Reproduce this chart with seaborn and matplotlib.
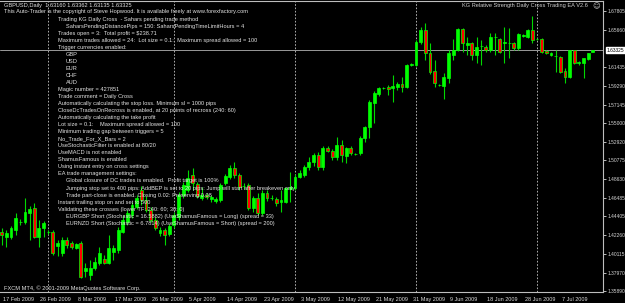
import matplotlib
matplotlib.use("Agg")
import matplotlib.pyplot as plt
import matplotlib.transforms as mtransforms
import numpy as np
import pandas as pd
import seaborn as sns

# ---------------- data (GBPUSD daily) ----------------
opens = [1.4261, 1.4204, 1.4204, 1.4284, 1.4375, 1.4375, 1.4478, 1.4535, 1.4204, 1.4307,
         1.4261, 1.4261, 1.4102, 1.4022, 1.4170, 1.4136, 1.4079, 1.4136, 1.3817, 1.3771,
         1.3851, 1.3908, 1.3953, 1.3908, 1.4033, 1.4056, 1.4261, 1.4375, 1.4455, 1.4546,
         1.4740, 1.4626, 1.4512, 1.4398, 1.4250, 1.4284, 1.4238, 1.4341, 1.4432, 1.4683,
         1.4740, 1.4911, 1.4808, 1.4649, 1.4683, 1.4637, 1.4615, 1.4626, 1.4820, 1.4888,
         1.4991, 1.4911, 1.4786, 1.4797, 1.4535, 1.4649, 1.4478, 1.4706, 1.4649, 1.4637,
         1.4603, 1.4603, 1.4751, 1.4763, 1.4888, 1.4911, 1.5002, 1.5059, 1.5139, 1.5002,
         1.5219, 1.5185, 1.5116, 1.5253, 1.5128, 1.5219, 1.5150, 1.5162, 1.5333, 1.5458,
         1.5732, 1.5834, 1.5903, 1.5914, 1.5903, 1.5914, 1.5948, 1.5914, 1.6165, 1.6165,
         1.6427, 1.6564, 1.6302, 1.6097, 1.5937, 1.5926, 1.6017, 1.6279, 1.6336, 1.6575,
         1.6393, 1.6416, 1.6279, 1.6382, 1.6370, 1.6336, 1.6484, 1.6461, 1.6416, 1.6416,
         1.6416, 1.6359, 1.6496, 1.6484, 1.6564, 1.6461, 1.6461, 1.6325, 1.6279, 1.6268,
         1.6256, 1.6097, 1.6028, 1.6336, 1.6188, 1.6188, 1.6233, 1.6316]
highs = [1.4307, 1.4284, 1.4330, 1.4478, 1.4409, 1.4649, 1.4558, 1.4592, 1.4398, 1.4387,
         1.4284, 1.4284, 1.4170, 1.4204, 1.4204, 1.4159, 1.4136, 1.4159, 1.3908, 1.3942,
         1.3976, 1.4090, 1.3999, 1.4227, 1.4113, 1.4318, 1.4455, 1.4512, 1.4603, 1.4683,
         1.4786, 1.4672, 1.4546, 1.4432, 1.4318, 1.4307, 1.4352, 1.4489, 1.4717, 1.4831,
         1.4968, 1.4991, 1.4831, 1.4774, 1.4706, 1.4683, 1.4660, 1.4820, 1.4922, 1.5025,
         1.5059, 1.4934, 1.4820, 1.4820, 1.4672, 1.4706, 1.4740, 1.4740, 1.4683, 1.4660,
         1.4740, 1.4774, 1.4945, 1.4922, 1.4968, 1.5025, 1.5116, 1.5162, 1.5173, 1.5242,
         1.5242, 1.5207, 1.5344, 1.5310, 1.5230, 1.5242, 1.5162, 1.5356, 1.5470, 1.5766,
         1.5869, 1.5914, 1.5914, 1.5937, 1.6051, 1.5971, 1.6028, 1.6176, 1.6188, 1.6450,
         1.6598, 1.6644, 1.6416, 1.6222, 1.5948, 1.6074, 1.6336, 1.6461, 1.6587, 1.6587,
         1.6484, 1.6427, 1.6484, 1.6450, 1.6393, 1.6530, 1.6530, 1.6473, 1.6598, 1.6587,
         1.6427, 1.6530, 1.6518, 1.6575, 1.6724, 1.6473, 1.6473, 1.6336, 1.6313, 1.6336,
         1.6268, 1.6131, 1.6340, 1.6340, 1.6211, 1.6247, 1.6305, 1.63362]
lows = [1.4113, 1.4090, 1.4181, 1.4227, 1.4341, 1.4352, 1.4170, 1.4193, 1.4090, 1.4204,
        1.4238, 1.3999, 1.3988, 1.3988, 1.4079, 1.4067, 1.4067, 1.3737, 1.3748, 1.3714,
        1.3828, 1.3885, 1.3896, 1.3896, 1.3942, 1.4022, 1.4250, 1.4341, 1.4421, 1.4523,
        1.4569, 1.4489, 1.4375, 1.4284, 1.4216, 1.4113, 1.4216, 1.4307, 1.4398, 1.4649,
        1.4717, 1.4740, 1.4649, 1.4626, 1.4637, 1.4603, 1.4592, 1.4603, 1.4797, 1.4865,
        1.4877, 1.4740, 1.4751, 1.4512, 1.4489, 1.4455, 1.4455, 1.4615, 1.4626, 1.4558,
        1.4489, 1.4592, 1.4603, 1.4740, 1.4877, 1.4888, 1.4968, 1.5014, 1.4968, 1.4968,
        1.5173, 1.5082, 1.5082, 1.5059, 1.5048, 1.5139, 1.5139, 1.5139, 1.5287, 1.5333,
        1.5504, 1.5812, 1.5891, 1.5823, 1.5743, 1.5880, 1.5857, 1.5903, 1.6154, 1.6154,
        1.6404, 1.6222, 1.6062, 1.5914, 1.5926, 1.5777, 1.5960, 1.6222, 1.6325, 1.6313,
        1.6279, 1.6222, 1.6188, 1.6165, 1.6313, 1.6313, 1.6279, 1.6302, 1.6188, 1.6245,
        1.6336, 1.6336, 1.6484, 1.6473, 1.6416, 1.6450, 1.6302, 1.6290, 1.6268, 1.6085,
        1.6074, 1.5960, 1.6017, 1.6176, 1.6165, 1.6017, 1.6222, 1.63135]
closes = [1.4227, 1.4250, 1.4307, 1.4421, 1.4377, 1.4489, 1.4523, 1.4204, 1.4307, 1.4364,
          1.4259, 1.4022, 1.4136, 1.4170, 1.4113, 1.4090, 1.4124, 1.3748, 1.3851, 1.3851,
          1.3919, 1.4022, 1.3908, 1.4079, 1.4079, 1.4284, 1.4398, 1.4478, 1.4569, 1.4649,
          1.4626, 1.4512, 1.4398, 1.4307, 1.4284, 1.4227, 1.4330, 1.4455, 1.4683, 1.4797,
          1.4877, 1.4820, 1.4672, 1.4683, 1.4660, 1.4660, 1.4637, 1.4797, 1.4900, 1.4991,
          1.4911, 1.4774, 1.4784, 1.4535, 1.4649, 1.4478, 1.4706, 1.4649, 1.4647, 1.4592,
          1.4626, 1.4763, 1.4774, 1.4888, 1.4934, 1.5002, 1.5059, 1.5139, 1.5002, 1.5219,
          1.5185, 1.5116, 1.5253, 1.5139, 1.5219, 1.5162, 1.5152, 1.5333, 1.5458, 1.5743,
          1.5846, 1.5903, 1.5905, 1.5891, 1.5926, 1.5948, 1.5914, 1.6165, 1.6176, 1.6427,
          1.6564, 1.6302, 1.6085, 1.5960, 1.5939, 1.6028, 1.6302, 1.6336, 1.6575, 1.6416,
          1.6416, 1.6279, 1.6370, 1.6380, 1.6336, 1.6484, 1.6486, 1.6313, 1.6427, 1.6418,
          1.6359, 1.6518, 1.6507, 1.6564, 1.6450, 1.6459, 1.6313, 1.6302, 1.6302, 1.6266,
          1.6085, 1.6028, 1.6336, 1.6188, 1.6199, 1.6245, 1.6302, 1.63325]

date_labels = ["17 Feb 2009", "26 Feb 2009", "8 Mar 2009", "17 Mar 2009", "26 Mar 2009",
               "5 Apr 2009", "14 Apr 2009", "23 Apr 2009", "3 May 2009", "12 May 2009",
               "21 May 2009", "31 May 2009", "9 Jun 2009", "18 Jun 2009", "28 Jun 2009",
               "7 Jul 2009"]
date_label_bars = [0, 8, 16, 24, 32, 40, 48, 56, 64, 72, 80, 88, 96, 104, 112, 120]
price_ticks = [1.67805, 1.65660, 1.61435, 1.59290, 1.57145, 1.55000, 1.52920, 1.50775,
               1.48630, 1.46485, 1.44405, 1.42260, 1.40115, 1.37970, 1.35890]
month_start_bars = [10, 37, 63, 89, 115]
current_price = 1.63325

header = "GBPUSD,Daily  1.63160 1.63362 1.63135 1.63325"
copyright_line = ("This Auto-Trader is the copyright of Steve Hopwood. "
                  "It is available freely at www.forexfactory.com")
comment_lines = [
    (0, "Trading KG Daily Cross  - Sahars pending trade method"),
    (1, "SaharsPendingDistancePips = 150: SaharsPendingTimeLimitHours = 4"),
    (0, "Trades open = 3:  Total profit = $238.71"),
    (0, "Maximum trades allowed = 24:  Lot size = 0.1:  Maximum spread allowed = 100"),
    (0, "Trigger currencies enabled:"),
    (1, "GBP"), (1, "USD"), (1, "EUR"), (1, "CHF"), (1, "AUD"),
    (0, "Magic number = 427851"),
    (0, "Trade comment = Daily Cross"),
    (0, "Automatically calculating the stop loss. Minimum sl = 1000 pips"),
    (0, "CloseDcTradesOnRecross is enabled, at 20 points of recross (240: 60)"),
    (0, "Automatically calculating the take profit"),
    (0, "Lot size = 0.1:    Maximum spread allowed = 100"),
    (0, "Minimum trading gap between triggers = 5"),
    (0, "No_Trade_For_X_Bars = 2"),
    (0, "UseStochasticFilter is enabled at 80/20"),
    (0, "UseMACD is not enabled"),
    (0, "ShamusFamous is enabled"),
    (0, "Using instant entry on cross settings"),
    (0, "EA trade management settings:"),
    (1, "Global closure of DC trades is enabled.  Profit target is 100%"),
    (1, "Jumping stop set to 400 pips: AddBEP is set to 20 pips: Jump will start after breakeven only"),
    (1, "Trade part-close is enabled. Closing 0.02: Preserving 0.08"),
    (0, "Instant trailing stop on and set to 500"),
    (0, "Validating these crosses (lower TF: 240: 60; 30: 0)"),
    (1, "EURGBP Short (Stochastic = 16.5882) (UseShamusFamous = Long) (spread = 33)"),
    (1, "EURNZD Short (Stochastic = 6.7814) (UseShamusFamous = Short) (spread = 200)"),
]
ea_title = "KG Relative Strength Daily Cross Trading EA V2.6"
footer = "FXCM MT4, \u00a9 2001-2009 MetaQuotes Software Corp."

df = pd.DataFrame({"bar": np.arange(len(opens)), "open": opens, "high": highs,
                   "low": lows, "close": closes})
df["up"] = df["close"] >= df["open"]

# ---------------- style ----------------
sns.set_theme(style="dark", rc={"axes.facecolor": "black", "figure.facecolor": "black",
                                "savefig.facecolor": "black"})
FONT = ["Liberation Sans", "DejaVu Sans"]
plt.rcParams["font.family"] = FONT

W, H = 625, 303
fig = plt.figure(figsize=(W / 100, H / 100), dpi=100, facecolor="black")
ax = fig.add_axes([0, 11 / H, 603 / W, 291 / H])
ax.set_facecolor("black")

px_per_bar = 4.655
ax.set_xlim(-1.7 / px_per_bar, (603 - 1.7) / px_per_bar)
ppp = 0.00114  # price per pixel
ax.set_ylim(1.35890 - 1 * ppp, 1.35890 + 290 * ppp)

renderer = fig.canvas.get_renderer()


def fit_size(s, target_px, family=FONT):
    t = fig.text(0, 0, s, fontsize=10, family=family)
    w = t.get_window_extent(renderer).width
    t.remove()
    return 10 * target_px / w


fs_text = fit_size(copyright_line, 243)
fs_dates = fit_size("17 Feb 2009", 31)
fs_price = fit_size("1.67805", 17.5)

# month separators
for b in month_start_bars:
    ax.axvline(b, color="#c8c8c8", lw=0.6, ls=(0, (2, 2)), zorder=1)

# bid line
ax.axhline(current_price, color="#9a9a9a", lw=0.7, zorder=1)

# candles: wicks then bodies
GREEN = "#00ff00"
ax.vlines(df["bar"], df["low"], df["high"], color="#00d800", lw=0.8, zorder=2)
body_low = np.minimum(df["open"], df["close"])
body_h = np.maximum(np.abs(df["close"] - df["open"]), 0.0005)
fills = np.where(df["up"], GREEN, "#ff0000")
ax.bar(df["bar"], body_h, bottom=body_low, width=0.62, color=fills,
       edgecolor=GREEN, linewidth=0.5, zorder=3)

# axes frame
ax.spines["left"].set_visible(False)
for side in ["right", "bottom", "top"]:
    ax.spines[side].set_visible(True)
    ax.spines[side].set_color("#bdbdbd")
    ax.spines[side].set_linewidth(0.8)
ax.grid(False)

ax.yaxis.tick_right()
ax.set_yticks(price_ticks)
ax.set_yticklabels([f"{p:.5f}" for p in price_ticks])
ax.tick_params(axis="y", colors="#d8d8d8", labelsize=fs_price, length=2, width=0.6,
               pad=1, direction="out")
ax.set_xticks(date_label_bars)
ax.set_xticklabels(date_labels, ha="left")
ax.tick_params(axis="x", colors="#d8d8d8", labelsize=fs_dates, length=3, width=0.6,
               pad=0.5, direction="out")
for lbl in ax.get_xticklabels():
    lbl.set_transform(lbl.get_transform() + mtransforms.ScaledTranslation(1.5 / 100, 0, fig.dpi_scale_trans))

# current price box
ax.text(1.0 + 4 / 603, current_price, f"{current_price:.5f}",
        transform=mtransforms.blended_transform_factory(ax.transAxes, ax.transData),
        ha="left", va="center", fontsize=fs_price, color="black",
        bbox=dict(boxstyle="square,pad=0.12", fc="white", ec="white"), clip_on=False, zorder=5)

# text overlays (pixel layout)
TXT = "#e4e4e4"


def put(x, y, s, **kw):
    fig.text(x / W, 1 - y / H, s, va="center", ha=kw.pop("ha", "left"),
             color=kw.pop("color", TXT), fontsize=kw.pop("fontsize", fs_text), **kw)


put(4, 5, header)
put(4, 12, copyright_line)
y = 19.3
for indent, s in comment_lines:
    put(57.5 if indent == 0 else 65.5, y, s)
    y += 7.03
put(4, 288.5, footer)
put(588, 6, ea_title, ha="right", color="#d0d0d0")
put(592, 6, "\u263a", family=["DejaVu Sans"], color="#d0d0d0", fontsize=fs_text * 1.3)

fig.savefig("out.png", dpi=100, facecolor="black")
